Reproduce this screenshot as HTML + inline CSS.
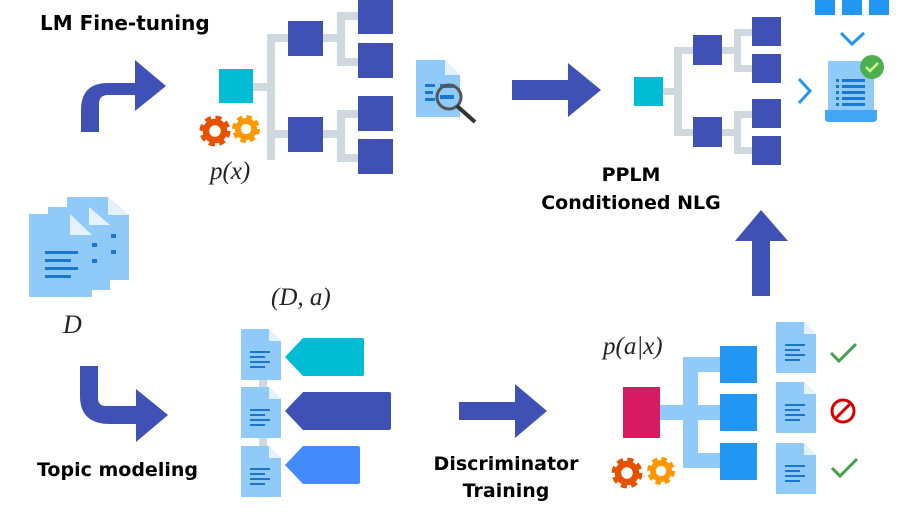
<!DOCTYPE html>
<html><head><meta charset="utf-8"><style>
html,body{margin:0;padding:0;background:#fff;}
svg{display:block;}
.b{font-family:"DejaVu Sans","Liberation Sans",sans-serif;font-weight:bold;fill:#000;}
.m{font-family:"Liberation Serif","DejaVu Serif",serif;font-style:italic;fill:#222;}
</style></head><body>
<svg width="918" height="517" viewBox="0 0 918 517" xmlns="http://www.w3.org/2000/svg">
<defs>
<g id="gear">
<circle r="11" fill="none" stroke="currentColor" stroke-width="9" stroke-dasharray="5 3.64"/>
<circle r="9" fill="none" stroke="currentColor" stroke-width="6.5"/>
</g>
<g id="doc">
<path d="M0 0H28L40 12V51H0Z" fill="#90caf9"/>
<path d="M28 0L40 12H28Z" fill="#e3f2fd"/>
<g fill="#1976d2"><rect x="9" y="22" width="20" height="2"/><rect x="9" y="27" width="15" height="2"/><rect x="9" y="32" width="20" height="2"/><rect x="9" y="37" width="15" height="2"/></g>
</g>
</defs>

<text class="b" x="40" y="30" font-size="20">LM Fine-tuning</text>
<path d="M81 132V110Q81 83 108 83H135V60L166 86L135 111V95H108Q99 95 99 104V132Z" fill="#3f51b5"/>

<g fill="#cfd8dc">
<rect x="253" y="83" width="18" height="8"/>
<rect x="267" y="34" width="8" height="126"/>
<rect x="267" y="34" width="22" height="8"/>
<rect x="267" y="130" width="22" height="8"/>
<rect x="323" y="34" width="20" height="8"/><rect x="337" y="12" width="8" height="52"/>
<rect x="337" y="12" width="22" height="8"/><rect x="337" y="58" width="22" height="8"/>
<rect x="323" y="130" width="20" height="8"/><rect x="337" y="110" width="8" height="52"/>
<rect x="337" y="110" width="22" height="8"/><rect x="337" y="154" width="22" height="8"/>
</g>
<rect x="219" y="69" width="34" height="34" fill="#00bcd4"/>
<g fill="#3f51b5">
<rect x="288" y="21" width="35" height="35"/><rect x="288" y="117" width="35" height="35"/>
<rect x="358" y="-1" width="35" height="35"/><rect x="358" y="43" width="35" height="35"/>
<rect x="358" y="96" width="35" height="35"/><rect x="358" y="139" width="35" height="35"/>
</g>
<use href="#gear" x="215" y="131" style="color:#e65100"/>
<use href="#gear" x="246" y="129" style="color:#ff9800" transform="translate(246 129) scale(0.9) translate(-246 -129)"/>
<text class="m" x="210" y="179" font-size="25">p(x)</text>

<path d="M416 60H445L460 75V117H416Z" fill="#90caf9"/>
<path d="M445 60L460 75H445Z" fill="#e3f2fd"/>
<g fill="#1976d2"><rect x="425" y="84" width="10" height="3"/><rect x="425" y="91" width="8" height="3"/><rect x="425" y="98" width="10" height="3"/><rect x="440" y="84" width="14" height="4"/><rect x="440" y="95" width="14" height="4"/></g>
<circle cx="449" cy="97" r="12" fill="none" stroke="#555" stroke-width="3"/>
<line x1="457" y1="106" x2="475" y2="122" stroke="#333" stroke-width="4"/>

<path d="M512 80H568V63L601 90L568 117V100H512Z" fill="#3f51b5"/>

<g fill="#cfd8dc">
<rect x="663" y="88" width="14" height="7"/>
<rect x="674" y="47" width="8" height="89"/>
<rect x="674" y="47" width="20" height="7"/><rect x="674" y="129" width="20" height="7"/>
<rect x="722" y="47" width="14" height="7"/><rect x="734" y="29" width="7" height="43"/>
<rect x="734" y="29" width="18" height="7"/><rect x="734" y="65" width="18" height="7"/>
<rect x="722" y="129" width="14" height="7"/><rect x="734" y="111" width="7" height="43"/>
<rect x="734" y="111" width="18" height="7"/><rect x="734" y="147" width="18" height="7"/>
</g>
<rect x="634" y="77" width="29" height="29" fill="#00bcd4"/>
<g fill="#3f51b5">
<rect x="693" y="35" width="29" height="30"/><rect x="693" y="117" width="29" height="30"/>
<rect x="752" y="17" width="29" height="29"/><rect x="752" y="54" width="29" height="29"/>
<rect x="752" y="99" width="29" height="29"/><rect x="752" y="136" width="29" height="29"/>
</g>
<polyline points="799,79 810,91 799,103" fill="none" stroke="#2196f3" stroke-width="3"/>
<g fill="#2196f3"><rect x="815" y="0" width="20" height="15"/><rect x="842" y="0" width="20" height="15"/><rect x="869" y="0" width="20" height="15"/></g>
<polyline points="841,33 852,44 864,33" fill="none" stroke="#2196f3" stroke-width="3"/>
<rect x="828" y="61" width="46" height="52" fill="#90caf9"/>
<path d="M825 110H877V118Q877 122 873 122H829Q825 122 825 118Z" fill="#42a5f5"/>
<g fill="#1976d2">
<rect x="836" y="79" width="3" height="3"/><rect x="842" y="79" width="23" height="3"/>
<rect x="836" y="85" width="3" height="3"/><rect x="842" y="85" width="23" height="3"/>
<rect x="836" y="91" width="3" height="3"/><rect x="842" y="91" width="23" height="3"/>
<rect x="836" y="97" width="3" height="3"/><rect x="842" y="97" width="23" height="3"/>
<rect x="836" y="103" width="3" height="3"/><rect x="842" y="103" width="23" height="3"/>
</g>
<circle cx="872" cy="67" r="12" fill="#4caf50"/>
<polyline points="866,67 870,71 878,63" fill="none" stroke="#ccff90" stroke-width="2.5"/>

<text class="b" x="631" y="181" font-size="19" text-anchor="middle">PPLM</text>
<text class="b" x="631" y="209" font-size="19" text-anchor="middle">Conditioned NLG</text>
<path d="M752 296V241H735L761 210L788 241H770V296Z" fill="#3f51b5"/>

<path d="M67 197H108L129 215V280H67Z" fill="#90caf9"/>
<path d="M108 197L129 215H108Z" fill="#e3f2fd"/>
<path d="M48 207H89L110 225V290H48Z" fill="#90caf9"/>
<path d="M89 207L110 225H89Z" fill="#e3f2fd"/>
<path d="M29 214H70L92 235V297H29Z" fill="#90caf9"/>
<path d="M70 214L92 235H70Z" fill="#e3f2fd"/>
<g fill="#1976d2">
<rect x="111" y="234" width="5" height="4"/><rect x="111" y="250" width="5" height="4"/>
<rect x="92" y="243" width="5" height="4"/><rect x="92" y="259" width="5" height="4"/>
<rect x="45" y="251" width="33" height="3"/><rect x="45" y="259" width="26" height="3"/><rect x="45" y="267" width="33" height="3"/><rect x="45" y="275" width="26" height="3"/>
</g>
<text class="m" x="63" y="333" font-size="26">D</text>
<path d="M80 366H98V398Q98 406 106 406H136V389L168 415L136 442V424H110Q80 424 80 396Z" fill="#3f51b5"/>
<text class="b" x="37" y="476" font-size="19">Topic modeling</text>

<text class="m" x="271" y="305" font-size="25">(D, a)</text>
<rect x="259" y="378" width="8" height="12" fill="#cfd8dc"/>
<rect x="259" y="436" width="8" height="12" fill="#cfd8dc"/>
<use href="#doc" x="241" y="329"/>
<use href="#doc" x="241" y="387"/>
<use href="#doc" x="241" y="446"/>
<path d="M303 338H362Q364 338 364 340V374Q364 376 362 376H303L285 357Z" fill="#00bcd4"/>
<path d="M303 392H389Q391 392 391 394V428Q391 430 389 430H303L285 411Z" fill="#3f51b5"/>
<path d="M303 446H358Q360 446 360 448V482Q360 484 358 484H303L285 465Z" fill="#448aff"/>

<path d="M459 402H515V384L547 411L515 438V420H459Z" fill="#3f51b5"/>
<text class="b" x="506" y="470" font-size="19" text-anchor="middle">Discriminator</text>
<text class="b" x="506" y="497" font-size="19" text-anchor="middle">Training</text>

<text class="m" x="603" y="354" font-size="25">p(a|x)</text>
<g fill="#90caf9">
<rect x="660" y="405" width="62" height="15"/>
<rect x="683" y="357" width="15" height="111"/>
<rect x="683" y="357" width="40" height="15"/>
<rect x="683" y="453" width="40" height="15"/>
</g>
<rect x="623" y="387" width="37" height="51" fill="#d81b60"/>
<g fill="#2196f3">
<rect x="720" y="346" width="37" height="37"/><rect x="720" y="394" width="37" height="37"/><rect x="720" y="443" width="37" height="37"/>
</g>
<use href="#gear" x="627" y="473" style="color:#e65100"/>
<use href="#gear" x="661" y="471" style="color:#ff9800" transform="translate(661 471) scale(0.9) translate(-661 -471)"/>
<use href="#doc" x="776" y="322"/>
<use href="#doc" x="776" y="382"/>
<use href="#doc" x="776" y="443"/>
<polyline points="831,353 839,361 856,344" fill="none" stroke="#43a047" stroke-width="3"/>
<circle cx="843" cy="411" r="11" fill="none" stroke="#d50000" stroke-width="3"/>
<line x1="836" y1="418" x2="850" y2="404" stroke="#d50000" stroke-width="3"/>
<polyline points="832,468 840,476 857,459" fill="none" stroke="#43a047" stroke-width="3"/>
</svg>
</body></html>
